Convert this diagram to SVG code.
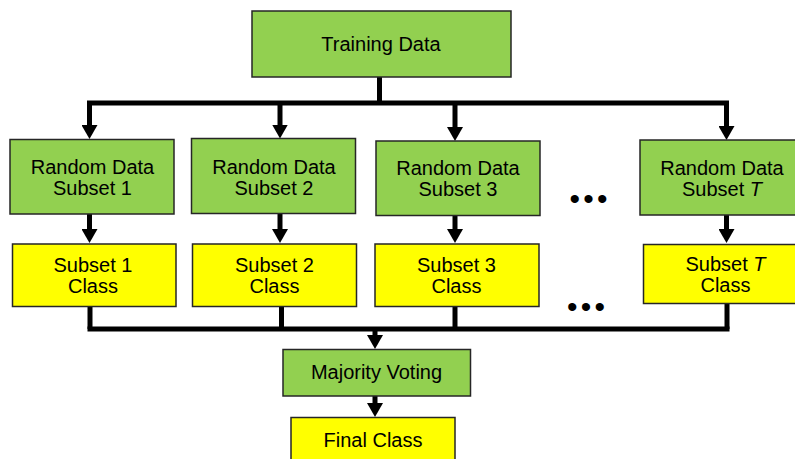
<svg xmlns="http://www.w3.org/2000/svg" width="795" height="459" viewBox="0 0 795 459">
<style>
  .g { fill: #92D050; stroke: #262626; stroke-width: 1.5; }
  .y { fill: #FFFF00; stroke: #262626; stroke-width: 1.5; }
  text { font-family: "Liberation Sans", Arial, sans-serif; font-size: 20px; fill: #000; text-anchor: middle; }
  .dots { font-size: 30px; letter-spacing: 3.2px; text-anchor: start; }
  .c { fill: none; stroke: #000; stroke-width: 5; }
  .bus { stroke-linecap: square; }
</style>
<defs>
  <marker id="ah" viewBox="0 0 14 16" markerWidth="14" markerHeight="16" refX="7" refY="8" orient="auto" markerUnits="userSpaceOnUse">
    <path d="M0,0 L14,8 L0,16 Z" fill="#000"/>
  </marker>
</defs>
<rect width="795" height="459" fill="#fff"/>

<g id="connectors">
  <path class="c" d="M379.5,77 V103"/>
  <path class="c bus" d="M89.5,103 H726.5"/>
  <path class="c" d="M89.5,103 V132" marker-end="url(#ah)"/>
  <path class="c" d="M280,103 V131.5" marker-end="url(#ah)"/>
  <path class="c" d="M455,103 V134" marker-end="url(#ah)"/>
  <path class="c" d="M726.5,103 V133" marker-end="url(#ah)"/>

  <path class="c" d="M89.5,214 V236" marker-end="url(#ah)"/>
  <path class="c" d="M280,213 V236" marker-end="url(#ah)"/>
  <path class="c" d="M455,215.5 V236" marker-end="url(#ah)"/>
  <path class="c" d="M726.5,215 V236" marker-end="url(#ah)"/>

  <path class="c" d="M90,306.5 V329"/>
  <path class="c" d="M281.5,306.5 V329"/>
  <path class="c" d="M455,306.5 V329"/>
  <path class="c" d="M727,303.5 V329"/>
  <path class="c bus" d="M90,329 H727"/>
  <path class="c" d="M375,329 V342" marker-end="url(#ah)"/>
  <path class="c" d="M375,396 V410" marker-end="url(#ah)"/>
</g>

<g id="training-data">
  <rect class="g" x="252" y="11" width="259" height="66"/>
  <text x="381" y="51">Training Data</text>
</g>

<g id="random-subset-1">
  <rect class="g" x="10" y="139.5" width="164" height="74.5"/>
  <text x="92.5" y="173.5">Random Data</text>
  <text x="92.5" y="194.5">Subset 1</text>
</g>
<g id="random-subset-2">
  <rect class="g" x="191.5" y="138.5" width="164" height="75"/>
  <text x="274" y="173.5">Random Data</text>
  <text x="274" y="194.5">Subset 2</text>
</g>
<g id="random-subset-3">
  <rect class="g" x="376" y="141" width="164" height="74.5"/>
  <text x="458" y="174.5">Random Data</text>
  <text x="458" y="195.5">Subset 3</text>
</g>
<g id="random-subset-T">
  <rect class="g" x="640" y="140" width="164" height="75"/>
  <text x="722" y="174.5">Random Data</text>
  <text x="722" y="195.5">Subset <tspan font-style="italic">T</tspan></text>
</g>

<g id="dots-top"><text class="dots" x="569.5" y="209">•••</text></g>

<g id="class-1">
  <rect class="y" x="12.5" y="244" width="163.5" height="62.5"/>
  <text x="93" y="272">Subset 1</text>
  <text x="93" y="293">Class</text>
</g>
<g id="class-2">
  <rect class="y" x="192.5" y="244" width="164" height="62.5"/>
  <text x="274.5" y="272">Subset 2</text>
  <text x="274.5" y="293">Class</text>
</g>
<g id="class-3">
  <rect class="y" x="375" y="244" width="164" height="62.5"/>
  <text x="456.5" y="272">Subset 3</text>
  <text x="456.5" y="293">Class</text>
</g>
<g id="class-T">
  <rect class="y" x="643.5" y="244.5" width="164" height="59"/>
  <text x="725.5" y="270.5">Subset <tspan font-style="italic">T</tspan></text>
  <text x="725.5" y="291.5">Class</text>
</g>

<g id="dots-bottom"><text class="dots" x="567" y="316.5">•••</text></g>

<g id="majority-voting">
  <rect class="g" x="283" y="349.5" width="187.5" height="46.5"/>
  <text x="376.5" y="379">Majority Voting</text>
</g>
<g id="final-class">
  <rect class="y" x="291" y="417.5" width="164" height="55"/>
  <text x="373" y="447">Final Class</text>
</g>
</svg>
